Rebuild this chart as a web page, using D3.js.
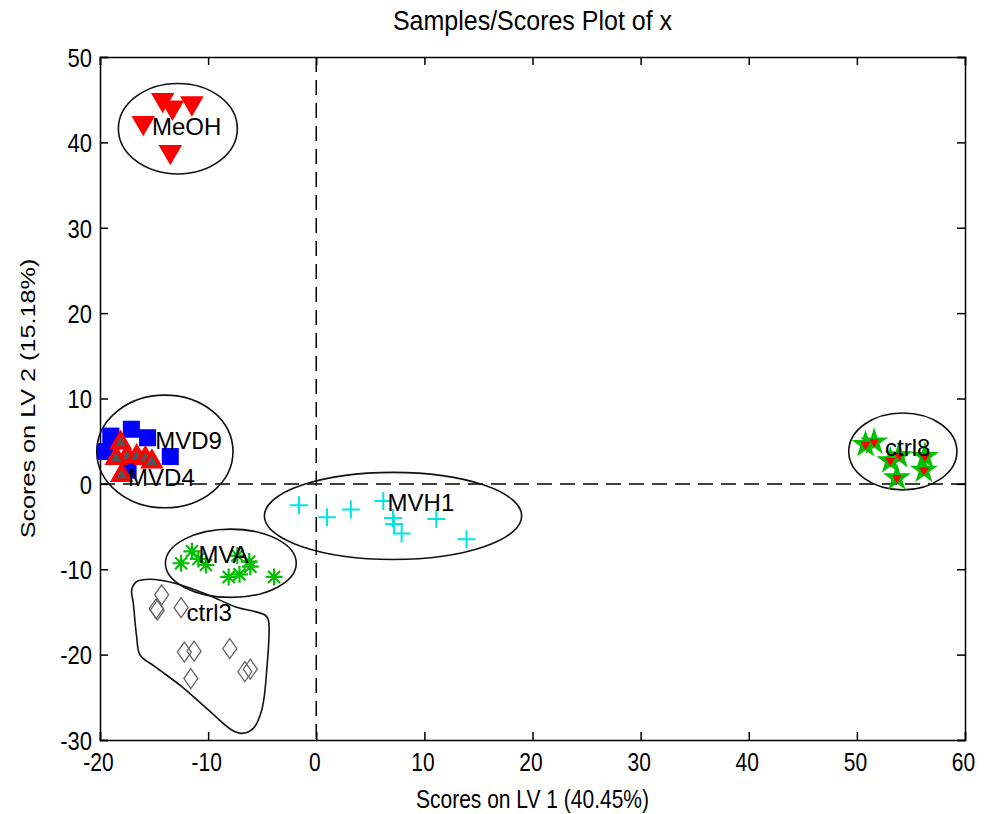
<!DOCTYPE html>
<html>
<head>
<meta charset="utf-8">
<script src="https://cdn.jsdelivr.net/npm/d3@7"></script>
<style>
  body { margin: 0; background: #fff; }
  svg { display: block; }
  text { font-family: "Liberation Sans", Arial, sans-serif; fill: #000; }
</style>
</head>
<body>
<svg id="chart" width="984" height="814"></svg>
<script>
// Achsen
const xTicks = [-20, -10, 0, 10, 20, 30, 40, 50, 60];
const yTicks = [-30, -20, -10, 0, 10, 20, 30, 40, 50];

// Gruppen (LV1, LV2)
const meoh = [[-14.2, 45.0], [-13.3, 44.1], [-11.5, 44.6], [-16.0, 42.3], [-13.5, 38.9]];
const mvd9 = [[-19.0, 5.6], [-17.1, 6.4], [-15.6, 5.4], [-13.5, 3.2], [-19.5, 3.8], [-17.4, 1.6]];
const mvd4 = [[-18.1, 4.8], [-17.5, 3.2], [-16.6, 3.2], [-15.8, 3.0], [-15.2, 2.6], [-18.5, 3.0], [-18.0, 1.0]];
const mva = [[-12.5, -9.3], [-11.5, -7.9], [-10.9, -8.8], [-10.2, -9.5], [-7.3, -8.4], [-6.2, -9.1],
             [-6.1, -9.7], [-8.1, -10.9], [-7.1, -10.6], [-3.9, -10.9]];
const ctrl3 = [[-14.3, -13.0], [-14.7, -14.8], [-14.8, -14.6], [-12.5, -14.5], [-12.2, -19.7], [-11.3, -19.6],
               [-11.6, -22.8], [-8.0, -19.3], [-6.6, -22.0], [-6.1, -21.7]];
const mvh1 = [[-1.6, -2.5], [1.0, -3.9], [3.2, -3.0], [6.2, -2.0], [7.1, -4.0], [7.2, -4.7], [7.9, -5.8],
              [11.1, -4.1], [13.9, -6.5]];
const ctrl8 = [[50.8, 4.6], [51.6, 4.9], [53.9, 3.3], [53.1, 2.7], [56.3, 3.2], [56.2, 1.6], [53.7, 0.7]];

// Beschriftungen der Gruppen
const groupLabels = [
    ['MeOH', -15.2, 41.8], ['MVD9', -14.9, 5.1], ['MVD4', -17.4, 0.7], ['MVA', -10.9, -8.3],
    ['ctrl3', -12.0, -15.1], ['MVH1', 6.6, -2.2], ['ctrl8', 52.6, 4.3]
];

// Ellipsen um Gruppen: cx, cy, rx, ry
const ellipses = [[-12.8, 41.6, 5.5, 5.3], [-14.0, 3.8, 6.3, 6.6], [-7.9, -9.3, 6.05, 4.0],
                  [7.1, -3.75, 11.9, 5.1], [54.25, 3.8, 5.0, 4.5]];

// Freihand-Umrandung ctrl3
const ctrl3Outline = [[-17.07, -12.43], [-16.61, -11.46], [-15.38, -11.17], [-13.07, -11.64], [-9.99, -13.01],
    [-7.51, -14.38], [-4.74, -15.36], [-4.43, -15.94], [-4.58, -21.8], [-5.04, -26.48], [-5.82, -28.63],
    [-6.89, -29.22], [-7.82, -28.83], [-9.98, -26.48], [-12.44, -23.75], [-14.91, -21.41], [-16.3, -20.04],
    [-16.61, -17.9], [-16.92, -13.98]];

const svg = d3.select('#chart');
const margin = { top: 57, right: 19, bottom: 74, left: 100 };
const width = 984 - margin.left - margin.right;
const height = 814 - margin.top - margin.bottom;

const g = svg.append('g').attr('transform', `translate(${margin.left},${margin.top})`);

const x = d3.scaleLinear().domain([-20, 60]).range([0, width]);
const y = d3.scaleLinear().domain([-30, 50]).range([height, 0]);

// Text mit leichter vertikaler Streckung (wie im Original)
const stretch = 1.2;
const fmt = d => String(d); // einfacher Bindestrich statt U+2212

// Titel
svg.append('text')
    .attr('transform', `translate(${margin.left + width / 2},20) scale(1,1.1)`)
    .attr('dy', '0.35em')
    .attr('text-anchor', 'middle')
    .style('font-size', '25px')
    .text('Samples/Scores Plot of x');

// Nulllinien gestrichelt
g.append('line')
    .attr('x1', x(0)).attr('x2', x(0)).attr('y1', 0).attr('y2', height)
    .style('stroke', '#000').style('stroke-dasharray', '15,8').style('stroke-width', 1.5);
g.append('line')
    .attr('x1', 0).attr('x2', width).attr('y1', y(0)).attr('y2', y(0))
    .style('stroke', '#000').style('stroke-dasharray', '15,8').style('stroke-width', 1.5);

// Achsen (Ticks nach innen, MATLAB-Stil)
const tickLen = 8;
g.append('g').attr('transform', `translate(0,${height})`)
    .call(d3.axisBottom(x).tickValues(xTicks).tickSize(-tickLen).tickFormat(fmt))
    .call(a => a.selectAll('text')
        .attr('y', 0).attr('dy', '0.35em')
        .attr('transform', `translate(-2,22) scale(1,${stretch})`)
        .style('font-size', '21px'));
g.append('g')
    .call(d3.axisTop(x).tickValues(xTicks).tickSize(-tickLen).tickFormat(''));
g.append('g')
    .call(d3.axisLeft(y).tickValues(yTicks).tickSize(-tickLen).tickFormat(fmt))
    .call(a => a.selectAll('text')
        .attr('x', 0).attr('dy', '0.35em')
        .attr('transform', `translate(-8,0) scale(1,${stretch})`)
        .style('font-size', '22px'));
g.append('g').attr('transform', `translate(${width},0)`)
    .call(d3.axisRight(y).tickValues(yTicks).tickSize(-tickLen).tickFormat(''));
g.selectAll('.domain').style('stroke-width', 1.5);
g.selectAll('.tick line').style('stroke-width', 1.5);

// Achsentitel
svg.append('text')
    .attr('transform', `translate(${margin.left + width / 2},799) scale(1,${stretch})`)
    .attr('dy', '0.35em')
    .attr('text-anchor', 'middle')
    .style('font-size', '21px')
    .text('Scores on LV 1 (40.45%)');
svg.append('text')
    .attr('transform', `translate(28,${margin.top + height / 2}) rotate(-90) scale(${stretch},1)`)
    .attr('dy', '0.35em')
    .attr('text-anchor', 'middle')
    .style('font-size', '21px')
    .text('Scores on LV 2 (15.18%)');

// Ellipsen
g.selectAll('.grp-ellipse')
    .data(ellipses)
    .enter()
    .append('ellipse')
    .attr('cx', d => x(d[0]))
    .attr('cy', d => y(d[1]))
    .attr('rx', d => x(d[0] + d[2]) - x(d[0]))
    .attr('ry', d => y(d[1] - d[3]) - y(d[1]))
    .style('fill', 'none').style('stroke', '#111').style('stroke-width', 1.6);

g.append('path')
    .datum(ctrl3Outline)
    .attr('d', d3.line().x(d => x(d[0])).y(d => y(d[1])).curve(d3.curveCatmullRomClosed))
    .style('fill', 'none').style('stroke', '#111').style('stroke-width', 1.6);

// Marker
function drawPoints(data, shape, style, rotate) {
    g.append('g').selectAll('path')
        .data(data)
        .enter()
        .append('path')
        .attr('transform', d => `translate(${x(d[0])},${y(d[1])})` + (rotate ? ` rotate(${rotate})` : ''))
        .attr('d', shape)
        .each(function() {
            const sel = d3.select(this);
            Object.entries(style).forEach(([k, v]) => sel.style(k, v));
        });
}

const asterisk = 'M-8.5,0H8.5M0,-8.5V8.5M-6,-6L6,6M-6,6L6,-6';
const plus = 'M-9,0H9M0,-9V9';
const diamond = 'M0,-10L7,0L0,10L-7,0Z';

drawPoints(ctrl3, diamond, { fill: 'none', stroke: '#666', 'stroke-width': 1.3 });
drawPoints(mva, asterisk, { fill: 'none', stroke: '#00c000', 'stroke-width': 2.2 });
drawPoints(mvh1, plus, { fill: 'none', stroke: '#00e6e6', 'stroke-width': 2 });
drawPoints(meoh, d3.symbol(d3.symbolTriangle, 240)(), { fill: '#ff0000', stroke: 'none' }, 180);
drawPoints(mvd9, d3.symbol(d3.symbolSquare, 290)(), { fill: '#0000ff', stroke: 'none' });
drawPoints(mvd4, d3.symbol(d3.symbolTriangle, 130)(), { fill: '#555', stroke: '#ff0000', 'stroke-width': 3.5 });
drawPoints(ctrl8, d3.symbol(d3.symbolStar, 170)(), { fill: '#00c000', stroke: '#00c000', 'stroke-width': 1.5 });
drawPoints(ctrl8, d3.symbol(d3.symbolTriangle, 40)(), { fill: '#ff0000', stroke: 'none' }, 180);

// Gruppenbeschriftungen
g.selectAll('.grp-label')
    .data(groupLabels)
    .enter()
    .append('text')
    .attr('x', d => x(d[1]))
    .attr('y', d => y(d[2]))
    .attr('dy', '0.35em')
    .style('font-size', '24px')
    .text(d => d[0]);
</script>
</body>
</html>
